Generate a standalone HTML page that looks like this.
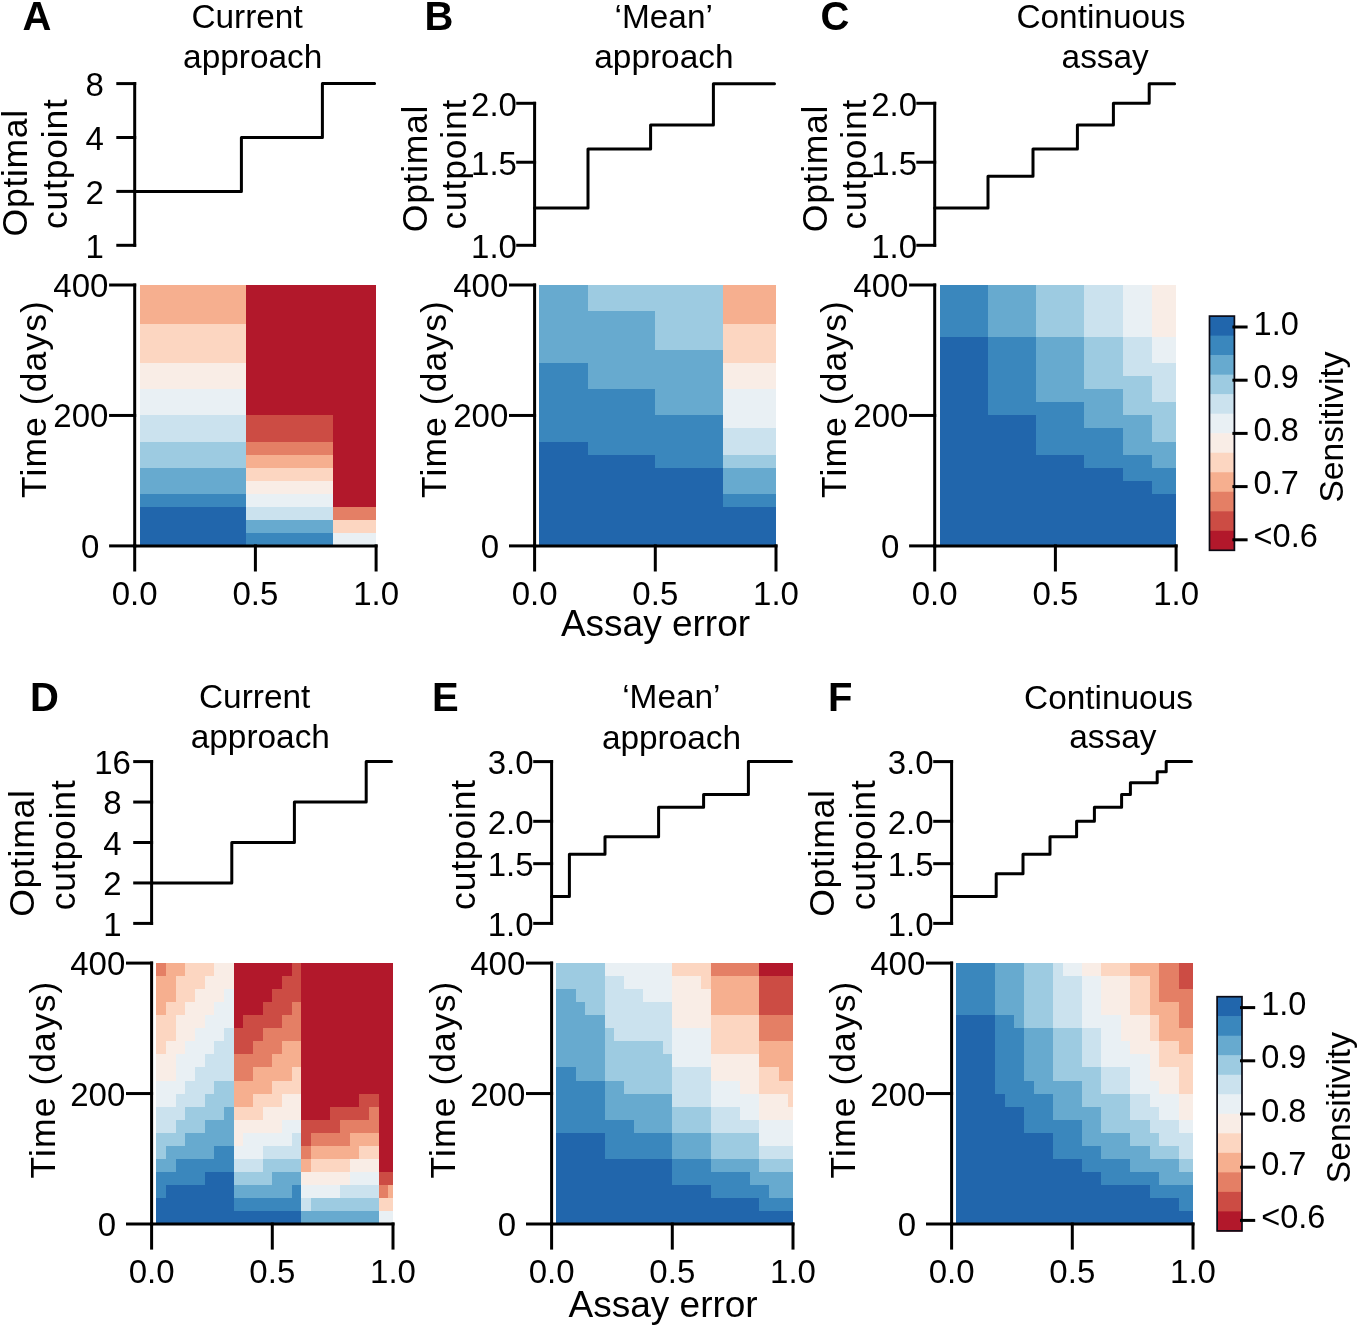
<!DOCTYPE html>
<html><head><meta charset="utf-8"><style>
html,body{margin:0;padding:0;background:#fff;}
svg{display:block;will-change:transform;}
text{font-family:"Liberation Sans", sans-serif;fill:#000;}
</style></head><body>
<svg width="1358" height="1326" viewBox="0 0 1358 1326">
<rect width="1358" height="1326" fill="#fff"/>
<g shape-rendering="crispEdges"><rect x="140" y="285" width="106" height="39" fill="#F6AF8F"/>
<rect x="246" y="285" width="130" height="130" fill="#B2182B"/>
<rect x="140" y="324" width="106" height="39" fill="#FCD6C1"/>
<rect x="140" y="363" width="106" height="26" fill="#F9EDE6"/>
<rect x="140" y="389" width="106" height="26" fill="#E9F0F4"/>
<rect x="140" y="415" width="106" height="27" fill="#CBE2EE"/>
<rect x="246" y="415" width="87" height="27" fill="#CC4C44"/>
<rect x="333" y="415" width="43" height="92" fill="#B2182B"/>
<rect x="140" y="442" width="106" height="26" fill="#9DCBE1"/>
<rect x="246" y="442" width="87" height="13" fill="#E47F65"/>
<rect x="246" y="455" width="87" height="13" fill="#F6AF8F"/>
<rect x="140" y="468" width="106" height="26" fill="#67AACF"/>
<rect x="246" y="468" width="87" height="13" fill="#FCD6C1"/>
<rect x="246" y="481" width="87" height="13" fill="#F9EDE6"/>
<rect x="140" y="494" width="106" height="13" fill="#3A87BD"/>
<rect x="246" y="494" width="87" height="13" fill="#E9F0F4"/>
<rect x="140" y="507" width="106" height="39" fill="#2166AC"/>
<rect x="246" y="507" width="87" height="13" fill="#CBE2EE"/>
<rect x="333" y="507" width="43" height="13" fill="#E47F65"/>
<rect x="246" y="520" width="87" height="13" fill="#67AACF"/>
<rect x="333" y="520" width="43" height="13" fill="#FCD6C1"/>
<rect x="246" y="533" width="87" height="13" fill="#3A87BD"/>
<rect x="333" y="533" width="43" height="13" fill="#E9F0F4"/></g>
<g shape-rendering="crispEdges"><rect x="539" y="285" width="49" height="26" fill="#67AACF"/>
<rect x="588" y="285" width="135" height="26" fill="#9DCBE1"/>
<rect x="723" y="285" width="53" height="39" fill="#F6AF8F"/>
<rect x="539" y="311" width="116" height="39" fill="#67AACF"/>
<rect x="655" y="311" width="68" height="39" fill="#9DCBE1"/>
<rect x="723" y="324" width="53" height="39" fill="#FCD6C1"/>
<rect x="539" y="350" width="184" height="13" fill="#67AACF"/>
<rect x="539" y="363" width="49" height="26" fill="#3A87BD"/>
<rect x="588" y="363" width="135" height="26" fill="#67AACF"/>
<rect x="723" y="363" width="53" height="26" fill="#F9EDE6"/>
<rect x="539" y="389" width="116" height="26" fill="#3A87BD"/>
<rect x="655" y="389" width="68" height="26" fill="#67AACF"/>
<rect x="723" y="389" width="53" height="39" fill="#E9F0F4"/>
<rect x="539" y="415" width="184" height="27" fill="#3A87BD"/>
<rect x="723" y="428" width="53" height="27" fill="#CBE2EE"/>
<rect x="539" y="442" width="49" height="13" fill="#2166AC"/>
<rect x="588" y="442" width="135" height="13" fill="#3A87BD"/>
<rect x="539" y="455" width="116" height="13" fill="#2166AC"/>
<rect x="655" y="455" width="68" height="13" fill="#3A87BD"/>
<rect x="723" y="455" width="53" height="13" fill="#9DCBE1"/>
<rect x="539" y="468" width="184" height="39" fill="#2166AC"/>
<rect x="723" y="468" width="53" height="26" fill="#67AACF"/>
<rect x="723" y="494" width="53" height="13" fill="#3A87BD"/>
<rect x="539" y="507" width="237" height="39" fill="#2166AC"/></g>
<g shape-rendering="crispEdges"><rect x="940" y="285" width="48" height="52" fill="#3A87BD"/>
<rect x="988" y="285" width="48" height="52" fill="#67AACF"/>
<rect x="1036" y="285" width="48" height="52" fill="#9DCBE1"/>
<rect x="1084" y="285" width="39" height="52" fill="#CBE2EE"/>
<rect x="1123" y="285" width="29" height="52" fill="#E9F0F4"/>
<rect x="1152" y="285" width="24" height="52" fill="#F9EDE6"/>
<rect x="940" y="337" width="48" height="78" fill="#2166AC"/>
<rect x="988" y="337" width="48" height="65" fill="#3A87BD"/>
<rect x="1036" y="337" width="48" height="52" fill="#67AACF"/>
<rect x="1084" y="337" width="39" height="39" fill="#9DCBE1"/>
<rect x="1123" y="337" width="29" height="26" fill="#CBE2EE"/>
<rect x="1152" y="337" width="24" height="26" fill="#E9F0F4"/>
<rect x="1123" y="363" width="53" height="13" fill="#CBE2EE"/>
<rect x="1084" y="376" width="68" height="13" fill="#9DCBE1"/>
<rect x="1152" y="376" width="24" height="26" fill="#CBE2EE"/>
<rect x="1036" y="389" width="87" height="13" fill="#67AACF"/>
<rect x="1123" y="389" width="29" height="13" fill="#9DCBE1"/>
<rect x="988" y="402" width="96" height="13" fill="#3A87BD"/>
<rect x="1084" y="402" width="39" height="13" fill="#67AACF"/>
<rect x="1123" y="402" width="53" height="13" fill="#9DCBE1"/>
<rect x="940" y="415" width="96" height="40" fill="#2166AC"/>
<rect x="1036" y="415" width="48" height="13" fill="#3A87BD"/>
<rect x="1084" y="415" width="68" height="13" fill="#67AACF"/>
<rect x="1152" y="415" width="24" height="27" fill="#9DCBE1"/>
<rect x="1036" y="428" width="87" height="27" fill="#3A87BD"/>
<rect x="1123" y="428" width="29" height="14" fill="#67AACF"/>
<rect x="1123" y="442" width="53" height="13" fill="#67AACF"/>
<rect x="940" y="455" width="144" height="13" fill="#2166AC"/>
<rect x="1084" y="455" width="68" height="13" fill="#3A87BD"/>
<rect x="1152" y="455" width="24" height="13" fill="#67AACF"/>
<rect x="940" y="468" width="183" height="13" fill="#2166AC"/>
<rect x="1123" y="468" width="53" height="13" fill="#3A87BD"/>
<rect x="940" y="481" width="212" height="13" fill="#2166AC"/>
<rect x="1152" y="481" width="24" height="13" fill="#3A87BD"/>
<rect x="940" y="494" width="236" height="52" fill="#2166AC"/></g>
<g shape-rendering="crispEdges"><rect x="156" y="963" width="10" height="13" fill="#E47F65"/>
<rect x="166" y="963" width="19" height="13" fill="#F6AF8F"/>
<rect x="185" y="963" width="29" height="13" fill="#FCD6C1"/>
<rect x="214" y="963" width="20" height="13" fill="#F9EDE6"/>
<rect x="234" y="963" width="58" height="13" fill="#B2182B"/>
<rect x="292" y="963" width="9" height="13" fill="#CC4C44"/>
<rect x="301" y="963" width="92" height="131" fill="#B2182B"/>
<rect x="156" y="976" width="20" height="26" fill="#F6AF8F"/>
<rect x="176" y="976" width="29" height="13" fill="#FCD6C1"/>
<rect x="205" y="976" width="29" height="13" fill="#F9EDE6"/>
<rect x="234" y="976" width="48" height="13" fill="#B2182B"/>
<rect x="282" y="976" width="19" height="13" fill="#CC4C44"/>
<rect x="176" y="989" width="19" height="13" fill="#FCD6C1"/>
<rect x="195" y="989" width="29" height="13" fill="#F9EDE6"/>
<rect x="224" y="989" width="10" height="13" fill="#E9F0F4"/>
<rect x="234" y="989" width="38" height="13" fill="#B2182B"/>
<rect x="272" y="989" width="29" height="13" fill="#CC4C44"/>
<rect x="156" y="1002" width="10" height="13" fill="#F6AF8F"/>
<rect x="166" y="1002" width="19" height="13" fill="#FCD6C1"/>
<rect x="185" y="1002" width="29" height="13" fill="#F9EDE6"/>
<rect x="214" y="1002" width="20" height="13" fill="#E9F0F4"/>
<rect x="234" y="1002" width="29" height="13" fill="#B2182B"/>
<rect x="263" y="1002" width="29" height="13" fill="#CC4C44"/>
<rect x="292" y="1002" width="9" height="13" fill="#E47F65"/>
<rect x="156" y="1015" width="20" height="26" fill="#FCD6C1"/>
<rect x="176" y="1015" width="29" height="13" fill="#F9EDE6"/>
<rect x="205" y="1015" width="29" height="13" fill="#E9F0F4"/>
<rect x="234" y="1015" width="9" height="13" fill="#B2182B"/>
<rect x="243" y="1015" width="39" height="13" fill="#CC4C44"/>
<rect x="282" y="1015" width="19" height="13" fill="#E47F65"/>
<rect x="176" y="1028" width="19" height="13" fill="#F9EDE6"/>
<rect x="195" y="1028" width="29" height="13" fill="#E9F0F4"/>
<rect x="224" y="1028" width="10" height="13" fill="#CBE2EE"/>
<rect x="234" y="1028" width="29" height="13" fill="#CC4C44"/>
<rect x="263" y="1028" width="38" height="13" fill="#E47F65"/>
<rect x="156" y="1041" width="10" height="13" fill="#FCD6C1"/>
<rect x="166" y="1041" width="19" height="13" fill="#F9EDE6"/>
<rect x="185" y="1041" width="29" height="13" fill="#E9F0F4"/>
<rect x="214" y="1041" width="20" height="13" fill="#CBE2EE"/>
<rect x="234" y="1041" width="19" height="13" fill="#CC4C44"/>
<rect x="253" y="1041" width="29" height="13" fill="#E47F65"/>
<rect x="282" y="1041" width="19" height="13" fill="#F6AF8F"/>
<rect x="156" y="1054" width="20" height="27" fill="#F9EDE6"/>
<rect x="176" y="1054" width="29" height="13" fill="#E9F0F4"/>
<rect x="205" y="1054" width="29" height="13" fill="#CBE2EE"/>
<rect x="234" y="1054" width="38" height="13" fill="#E47F65"/>
<rect x="272" y="1054" width="29" height="13" fill="#F6AF8F"/>
<rect x="176" y="1067" width="19" height="14" fill="#E9F0F4"/>
<rect x="195" y="1067" width="39" height="14" fill="#CBE2EE"/>
<rect x="234" y="1067" width="19" height="14" fill="#E47F65"/>
<rect x="253" y="1067" width="39" height="14" fill="#F6AF8F"/>
<rect x="292" y="1067" width="9" height="14" fill="#FCD6C1"/>
<rect x="156" y="1081" width="29" height="13" fill="#E9F0F4"/>
<rect x="185" y="1081" width="29" height="13" fill="#CBE2EE"/>
<rect x="214" y="1081" width="20" height="13" fill="#9DCBE1"/>
<rect x="234" y="1081" width="38" height="13" fill="#F6AF8F"/>
<rect x="272" y="1081" width="29" height="13" fill="#FCD6C1"/>
<rect x="156" y="1094" width="20" height="13" fill="#E9F0F4"/>
<rect x="176" y="1094" width="29" height="13" fill="#CBE2EE"/>
<rect x="205" y="1094" width="29" height="13" fill="#9DCBE1"/>
<rect x="234" y="1094" width="19" height="13" fill="#F6AF8F"/>
<rect x="253" y="1094" width="29" height="13" fill="#FCD6C1"/>
<rect x="282" y="1094" width="19" height="13" fill="#F9EDE6"/>
<rect x="301" y="1094" width="58" height="13" fill="#B2182B"/>
<rect x="359" y="1094" width="20" height="13" fill="#CC4C44"/>
<rect x="379" y="1094" width="14" height="78" fill="#B2182B"/>
<rect x="156" y="1107" width="29" height="13" fill="#CBE2EE"/>
<rect x="185" y="1107" width="39" height="13" fill="#9DCBE1"/>
<rect x="224" y="1107" width="10" height="13" fill="#67AACF"/>
<rect x="234" y="1107" width="29" height="13" fill="#FCD6C1"/>
<rect x="263" y="1107" width="38" height="13" fill="#F9EDE6"/>
<rect x="301" y="1107" width="29" height="13" fill="#B2182B"/>
<rect x="330" y="1107" width="39" height="13" fill="#CC4C44"/>
<rect x="369" y="1107" width="10" height="13" fill="#E47F65"/>
<rect x="156" y="1120" width="20" height="13" fill="#CBE2EE"/>
<rect x="176" y="1120" width="29" height="13" fill="#9DCBE1"/>
<rect x="205" y="1120" width="29" height="13" fill="#67AACF"/>
<rect x="234" y="1120" width="48" height="13" fill="#F9EDE6"/>
<rect x="282" y="1120" width="19" height="13" fill="#E9F0F4"/>
<rect x="301" y="1120" width="39" height="13" fill="#CC4C44"/>
<rect x="340" y="1120" width="39" height="13" fill="#E47F65"/>
<rect x="156" y="1133" width="29" height="13" fill="#9DCBE1"/>
<rect x="185" y="1133" width="49" height="13" fill="#67AACF"/>
<rect x="234" y="1133" width="9" height="13" fill="#F9EDE6"/>
<rect x="243" y="1133" width="49" height="13" fill="#E9F0F4"/>
<rect x="292" y="1133" width="9" height="13" fill="#CBE2EE"/>
<rect x="301" y="1133" width="10" height="13" fill="#CC4C44"/>
<rect x="311" y="1133" width="39" height="13" fill="#E47F65"/>
<rect x="350" y="1133" width="29" height="13" fill="#F6AF8F"/>
<rect x="156" y="1146" width="10" height="13" fill="#9DCBE1"/>
<rect x="166" y="1146" width="48" height="13" fill="#67AACF"/>
<rect x="214" y="1146" width="20" height="13" fill="#3A87BD"/>
<rect x="234" y="1146" width="29" height="13" fill="#E9F0F4"/>
<rect x="263" y="1146" width="38" height="13" fill="#CBE2EE"/>
<rect x="301" y="1146" width="10" height="13" fill="#E47F65"/>
<rect x="311" y="1146" width="48" height="13" fill="#F6AF8F"/>
<rect x="359" y="1146" width="20" height="13" fill="#FCD6C1"/>
<rect x="156" y="1159" width="20" height="13" fill="#67AACF"/>
<rect x="176" y="1159" width="58" height="13" fill="#3A87BD"/>
<rect x="234" y="1159" width="29" height="13" fill="#CBE2EE"/>
<rect x="263" y="1159" width="38" height="13" fill="#9DCBE1"/>
<rect x="301" y="1159" width="10" height="13" fill="#F6AF8F"/>
<rect x="311" y="1159" width="39" height="13" fill="#FCD6C1"/>
<rect x="350" y="1159" width="29" height="13" fill="#F9EDE6"/>
<rect x="156" y="1172" width="49" height="13" fill="#3A87BD"/>
<rect x="205" y="1172" width="29" height="13" fill="#2166AC"/>
<rect x="234" y="1172" width="38" height="13" fill="#9DCBE1"/>
<rect x="272" y="1172" width="29" height="13" fill="#67AACF"/>
<rect x="301" y="1172" width="49" height="13" fill="#F9EDE6"/>
<rect x="350" y="1172" width="29" height="13" fill="#E9F0F4"/>
<rect x="379" y="1172" width="14" height="13" fill="#CC4C44"/>
<rect x="156" y="1185" width="10" height="13" fill="#3A87BD"/>
<rect x="166" y="1185" width="68" height="13" fill="#2166AC"/>
<rect x="234" y="1185" width="58" height="13" fill="#67AACF"/>
<rect x="292" y="1185" width="9" height="13" fill="#3A87BD"/>
<rect x="301" y="1185" width="39" height="13" fill="#E9F0F4"/>
<rect x="340" y="1185" width="39" height="13" fill="#CBE2EE"/>
<rect x="379" y="1185" width="9" height="13" fill="#E47F65"/>
<rect x="388" y="1185" width="5" height="13" fill="#F6AF8F"/>
<rect x="156" y="1198" width="78" height="13" fill="#2166AC"/>
<rect x="234" y="1198" width="67" height="13" fill="#3A87BD"/>
<rect x="301" y="1198" width="10" height="13" fill="#CBE2EE"/>
<rect x="311" y="1198" width="68" height="13" fill="#9DCBE1"/>
<rect x="379" y="1198" width="14" height="13" fill="#FCD6C1"/>
<rect x="156" y="1211" width="145" height="13" fill="#2166AC"/>
<rect x="301" y="1211" width="78" height="13" fill="#67AACF"/>
<rect x="379" y="1211" width="14" height="13" fill="#E9F0F4"/></g>
<g shape-rendering="crispEdges"><rect x="556" y="963" width="49" height="26" fill="#9DCBE1"/>
<rect x="605" y="963" width="67" height="13" fill="#E9F0F4"/>
<rect x="672" y="963" width="39" height="13" fill="#FCD6C1"/>
<rect x="711" y="963" width="48" height="13" fill="#E47F65"/>
<rect x="759" y="963" width="34" height="13" fill="#B2182B"/>
<rect x="605" y="976" width="19" height="13" fill="#CBE2EE"/>
<rect x="624" y="976" width="48" height="13" fill="#E9F0F4"/>
<rect x="672" y="976" width="29" height="13" fill="#F9EDE6"/>
<rect x="701" y="976" width="10" height="13" fill="#FCD6C1"/>
<rect x="711" y="976" width="48" height="39" fill="#F6AF8F"/>
<rect x="759" y="976" width="34" height="39" fill="#CC4C44"/>
<rect x="556" y="989" width="20" height="13" fill="#67AACF"/>
<rect x="576" y="989" width="29" height="13" fill="#9DCBE1"/>
<rect x="605" y="989" width="38" height="13" fill="#CBE2EE"/>
<rect x="643" y="989" width="29" height="13" fill="#E9F0F4"/>
<rect x="672" y="989" width="39" height="39" fill="#F9EDE6"/>
<rect x="556" y="1002" width="29" height="13" fill="#67AACF"/>
<rect x="585" y="1002" width="20" height="13" fill="#9DCBE1"/>
<rect x="605" y="1002" width="67" height="26" fill="#CBE2EE"/>
<rect x="556" y="1015" width="49" height="52" fill="#67AACF"/>
<rect x="711" y="1015" width="48" height="39" fill="#FCD6C1"/>
<rect x="759" y="1015" width="34" height="26" fill="#E47F65"/>
<rect x="605" y="1028" width="9" height="13" fill="#9DCBE1"/>
<rect x="614" y="1028" width="58" height="13" fill="#CBE2EE"/>
<rect x="672" y="1028" width="39" height="39" fill="#E9F0F4"/>
<rect x="605" y="1041" width="58" height="13" fill="#9DCBE1"/>
<rect x="663" y="1041" width="9" height="13" fill="#CBE2EE"/>
<rect x="759" y="1041" width="34" height="26" fill="#F6AF8F"/>
<rect x="605" y="1054" width="67" height="27" fill="#9DCBE1"/>
<rect x="711" y="1054" width="48" height="27" fill="#F9EDE6"/>
<rect x="556" y="1067" width="20" height="14" fill="#3A87BD"/>
<rect x="576" y="1067" width="29" height="14" fill="#67AACF"/>
<rect x="672" y="1067" width="39" height="40" fill="#CBE2EE"/>
<rect x="759" y="1067" width="20" height="14" fill="#FCD6C1"/>
<rect x="779" y="1067" width="14" height="14" fill="#F6AF8F"/>
<rect x="556" y="1081" width="49" height="39" fill="#3A87BD"/>
<rect x="605" y="1081" width="19" height="13" fill="#67AACF"/>
<rect x="624" y="1081" width="48" height="13" fill="#9DCBE1"/>
<rect x="711" y="1081" width="29" height="13" fill="#E9F0F4"/>
<rect x="740" y="1081" width="19" height="13" fill="#F9EDE6"/>
<rect x="759" y="1081" width="34" height="13" fill="#FCD6C1"/>
<rect x="605" y="1094" width="67" height="26" fill="#67AACF"/>
<rect x="711" y="1094" width="48" height="13" fill="#E9F0F4"/>
<rect x="759" y="1094" width="29" height="13" fill="#F9EDE6"/>
<rect x="788" y="1094" width="5" height="13" fill="#FCD6C1"/>
<rect x="672" y="1107" width="39" height="26" fill="#9DCBE1"/>
<rect x="711" y="1107" width="29" height="13" fill="#CBE2EE"/>
<rect x="740" y="1107" width="19" height="13" fill="#E9F0F4"/>
<rect x="759" y="1107" width="34" height="13" fill="#F9EDE6"/>
<rect x="556" y="1120" width="78" height="13" fill="#3A87BD"/>
<rect x="634" y="1120" width="38" height="13" fill="#67AACF"/>
<rect x="711" y="1120" width="48" height="13" fill="#CBE2EE"/>
<rect x="759" y="1120" width="34" height="26" fill="#E9F0F4"/>
<rect x="556" y="1133" width="49" height="26" fill="#2166AC"/>
<rect x="605" y="1133" width="67" height="26" fill="#3A87BD"/>
<rect x="672" y="1133" width="39" height="26" fill="#67AACF"/>
<rect x="711" y="1133" width="48" height="26" fill="#9DCBE1"/>
<rect x="759" y="1146" width="34" height="13" fill="#CBE2EE"/>
<rect x="556" y="1159" width="116" height="26" fill="#2166AC"/>
<rect x="672" y="1159" width="39" height="13" fill="#3A87BD"/>
<rect x="711" y="1159" width="48" height="13" fill="#67AACF"/>
<rect x="759" y="1159" width="34" height="13" fill="#9DCBE1"/>
<rect x="672" y="1172" width="78" height="13" fill="#3A87BD"/>
<rect x="750" y="1172" width="43" height="13" fill="#67AACF"/>
<rect x="556" y="1185" width="155" height="13" fill="#2166AC"/>
<rect x="711" y="1185" width="58" height="13" fill="#3A87BD"/>
<rect x="769" y="1185" width="24" height="13" fill="#67AACF"/>
<rect x="556" y="1198" width="203" height="13" fill="#2166AC"/>
<rect x="759" y="1198" width="34" height="13" fill="#3A87BD"/>
<rect x="556" y="1211" width="237" height="13" fill="#2166AC"/></g>
<g shape-rendering="crispEdges"><rect x="956" y="963" width="39" height="52" fill="#3A87BD"/>
<rect x="995" y="963" width="29" height="52" fill="#67AACF"/>
<rect x="1024" y="963" width="29" height="65" fill="#9DCBE1"/>
<rect x="1053" y="963" width="10" height="13" fill="#CBE2EE"/>
<rect x="1063" y="963" width="19" height="13" fill="#E9F0F4"/>
<rect x="1082" y="963" width="19" height="13" fill="#F9EDE6"/>
<rect x="1101" y="963" width="29" height="13" fill="#FCD6C1"/>
<rect x="1130" y="963" width="29" height="13" fill="#F6AF8F"/>
<rect x="1159" y="963" width="20" height="26" fill="#E47F65"/>
<rect x="1179" y="963" width="14" height="26" fill="#CC4C44"/>
<rect x="1053" y="976" width="29" height="52" fill="#CBE2EE"/>
<rect x="1082" y="976" width="19" height="39" fill="#E9F0F4"/>
<rect x="1101" y="976" width="29" height="39" fill="#F9EDE6"/>
<rect x="1130" y="976" width="20" height="39" fill="#FCD6C1"/>
<rect x="1150" y="976" width="9" height="26" fill="#F6AF8F"/>
<rect x="1159" y="989" width="34" height="13" fill="#E47F65"/>
<rect x="1150" y="1002" width="29" height="13" fill="#F6AF8F"/>
<rect x="1179" y="1002" width="14" height="26" fill="#E47F65"/>
<rect x="956" y="1015" width="39" height="79" fill="#2166AC"/>
<rect x="995" y="1015" width="19" height="13" fill="#3A87BD"/>
<rect x="1014" y="1015" width="10" height="13" fill="#67AACF"/>
<rect x="1082" y="1015" width="39" height="13" fill="#E9F0F4"/>
<rect x="1121" y="1015" width="29" height="26" fill="#F9EDE6"/>
<rect x="1150" y="1015" width="9" height="26" fill="#FCD6C1"/>
<rect x="1159" y="1015" width="20" height="13" fill="#F6AF8F"/>
<rect x="995" y="1028" width="29" height="53" fill="#3A87BD"/>
<rect x="1024" y="1028" width="29" height="53" fill="#67AACF"/>
<rect x="1053" y="1028" width="29" height="39" fill="#9DCBE1"/>
<rect x="1082" y="1028" width="19" height="39" fill="#CBE2EE"/>
<rect x="1101" y="1028" width="20" height="13" fill="#E9F0F4"/>
<rect x="1159" y="1028" width="34" height="13" fill="#F6AF8F"/>
<rect x="1101" y="1041" width="29" height="13" fill="#E9F0F4"/>
<rect x="1130" y="1041" width="29" height="13" fill="#F9EDE6"/>
<rect x="1159" y="1041" width="20" height="13" fill="#FCD6C1"/>
<rect x="1179" y="1041" width="14" height="13" fill="#F6AF8F"/>
<rect x="1101" y="1054" width="49" height="13" fill="#E9F0F4"/>
<rect x="1150" y="1054" width="9" height="13" fill="#F9EDE6"/>
<rect x="1159" y="1054" width="34" height="13" fill="#FCD6C1"/>
<rect x="1053" y="1067" width="48" height="14" fill="#9DCBE1"/>
<rect x="1101" y="1067" width="29" height="27" fill="#CBE2EE"/>
<rect x="1130" y="1067" width="20" height="14" fill="#E9F0F4"/>
<rect x="1150" y="1067" width="29" height="14" fill="#F9EDE6"/>
<rect x="1179" y="1067" width="14" height="27" fill="#FCD6C1"/>
<rect x="995" y="1081" width="39" height="13" fill="#3A87BD"/>
<rect x="1034" y="1081" width="48" height="13" fill="#67AACF"/>
<rect x="1082" y="1081" width="19" height="13" fill="#9DCBE1"/>
<rect x="1130" y="1081" width="29" height="13" fill="#E9F0F4"/>
<rect x="1159" y="1081" width="20" height="13" fill="#F9EDE6"/>
<rect x="956" y="1094" width="49" height="13" fill="#2166AC"/>
<rect x="1005" y="1094" width="48" height="13" fill="#3A87BD"/>
<rect x="1053" y="1094" width="29" height="13" fill="#67AACF"/>
<rect x="1082" y="1094" width="48" height="13" fill="#9DCBE1"/>
<rect x="1130" y="1094" width="20" height="13" fill="#CBE2EE"/>
<rect x="1150" y="1094" width="29" height="13" fill="#E9F0F4"/>
<rect x="1179" y="1094" width="14" height="26" fill="#F9EDE6"/>
<rect x="956" y="1107" width="68" height="26" fill="#2166AC"/>
<rect x="1024" y="1107" width="29" height="13" fill="#3A87BD"/>
<rect x="1053" y="1107" width="48" height="13" fill="#67AACF"/>
<rect x="1101" y="1107" width="29" height="13" fill="#9DCBE1"/>
<rect x="1130" y="1107" width="29" height="13" fill="#CBE2EE"/>
<rect x="1159" y="1107" width="20" height="13" fill="#E9F0F4"/>
<rect x="1024" y="1120" width="58" height="13" fill="#3A87BD"/>
<rect x="1082" y="1120" width="19" height="13" fill="#67AACF"/>
<rect x="1101" y="1120" width="49" height="13" fill="#9DCBE1"/>
<rect x="1150" y="1120" width="29" height="13" fill="#CBE2EE"/>
<rect x="1179" y="1120" width="14" height="13" fill="#E9F0F4"/>
<rect x="956" y="1133" width="97" height="26" fill="#2166AC"/>
<rect x="1053" y="1133" width="29" height="13" fill="#3A87BD"/>
<rect x="1082" y="1133" width="48" height="13" fill="#67AACF"/>
<rect x="1130" y="1133" width="29" height="13" fill="#9DCBE1"/>
<rect x="1159" y="1133" width="34" height="13" fill="#CBE2EE"/>
<rect x="1053" y="1146" width="48" height="13" fill="#3A87BD"/>
<rect x="1101" y="1146" width="49" height="13" fill="#67AACF"/>
<rect x="1150" y="1146" width="29" height="13" fill="#9DCBE1"/>
<rect x="1179" y="1146" width="14" height="13" fill="#CBE2EE"/>
<rect x="956" y="1159" width="126" height="13" fill="#2166AC"/>
<rect x="1082" y="1159" width="48" height="13" fill="#3A87BD"/>
<rect x="1130" y="1159" width="49" height="13" fill="#67AACF"/>
<rect x="1179" y="1159" width="14" height="13" fill="#9DCBE1"/>
<rect x="956" y="1172" width="145" height="13" fill="#2166AC"/>
<rect x="1101" y="1172" width="58" height="13" fill="#3A87BD"/>
<rect x="1159" y="1172" width="34" height="13" fill="#67AACF"/>
<rect x="956" y="1185" width="194" height="13" fill="#2166AC"/>
<rect x="1150" y="1185" width="43" height="13" fill="#3A87BD"/>
<rect x="956" y="1198" width="223" height="13" fill="#2166AC"/>
<rect x="1179" y="1198" width="14" height="13" fill="#3A87BD"/>
<rect x="956" y="1211" width="237" height="13" fill="#2166AC"/></g>
<g stroke="#000" stroke-width="3.00" stroke-linecap="square" stroke-linejoin="round" fill="none"><line x1="134.70" y1="245.30" x2="134.70" y2="83.60"/>
<line x1="117.80" y1="245.30" x2="134.70" y2="245.30"/>
<line x1="117.80" y1="191.40" x2="134.70" y2="191.40"/>
<line x1="117.80" y1="137.50" x2="134.70" y2="137.50"/>
<line x1="117.80" y1="83.60" x2="134.70" y2="83.60"/>
<path d="M134.70,191.40 H241.40 V137.50 H322.40 V83.60 H374.60" fill="none" stroke-linecap="round"/>
<line x1="134.70" y1="545.90" x2="134.70" y2="285.00"/>
<line x1="110.60" y1="545.90" x2="134.70" y2="545.90"/>
<line x1="110.60" y1="415.45" x2="134.70" y2="415.45"/>
<line x1="110.60" y1="285.00" x2="134.70" y2="285.00"/>
<line x1="134.70" y1="545.90" x2="376.10" y2="545.90"/>
<line x1="134.70" y1="545.90" x2="134.70" y2="570.00"/>
<line x1="255.40" y1="545.90" x2="255.40" y2="570.00"/>
<line x1="376.10" y1="545.90" x2="376.10" y2="570.00"/></g>
<g stroke="#000" stroke-width="3.00" stroke-linecap="square" stroke-linejoin="round" fill="none"><line x1="534.60" y1="245.30" x2="534.60" y2="103.30"/>
<line x1="517.70" y1="245.30" x2="534.60" y2="245.30"/>
<line x1="517.70" y1="162.24" x2="534.60" y2="162.24"/>
<line x1="517.70" y1="103.30" x2="534.60" y2="103.30"/>
<path d="M534.60,207.95 H588.00 V149.01 H650.60 V124.88 H713.40 V83.77 H774.50" fill="none" stroke-linecap="round"/>
<line x1="534.60" y1="545.90" x2="534.60" y2="285.00"/>
<line x1="510.50" y1="545.90" x2="534.60" y2="545.90"/>
<line x1="510.50" y1="415.45" x2="534.60" y2="415.45"/>
<line x1="510.50" y1="285.00" x2="534.60" y2="285.00"/>
<line x1="534.60" y1="545.90" x2="776.00" y2="545.90"/>
<line x1="534.60" y1="545.90" x2="534.60" y2="570.00"/>
<line x1="655.30" y1="545.90" x2="655.30" y2="570.00"/>
<line x1="776.00" y1="545.90" x2="776.00" y2="570.00"/></g>
<g stroke="#000" stroke-width="3.00" stroke-linecap="square" stroke-linejoin="round" fill="none"><line x1="934.70" y1="245.30" x2="934.70" y2="103.30"/>
<line x1="917.80" y1="245.30" x2="934.70" y2="245.30"/>
<line x1="917.80" y1="162.24" x2="934.70" y2="162.24"/>
<line x1="917.80" y1="103.30" x2="934.70" y2="103.30"/>
<path d="M934.70,207.95 H988.00 V176.37 H1033.00 V149.01 H1077.40 V124.88 H1113.40 V103.30 H1149.20 V83.77 H1174.60" fill="none" stroke-linecap="round"/>
<line x1="934.70" y1="545.90" x2="934.70" y2="285.00"/>
<line x1="910.60" y1="545.90" x2="934.70" y2="545.90"/>
<line x1="910.60" y1="415.45" x2="934.70" y2="415.45"/>
<line x1="910.60" y1="285.00" x2="934.70" y2="285.00"/>
<line x1="934.70" y1="545.90" x2="1176.10" y2="545.90"/>
<line x1="934.70" y1="545.90" x2="934.70" y2="570.00"/>
<line x1="1055.40" y1="545.90" x2="1055.40" y2="570.00"/>
<line x1="1176.10" y1="545.90" x2="1176.10" y2="570.00"/></g>
<g stroke="#000" stroke-width="3.00" stroke-linecap="square" stroke-linejoin="round" fill="none"><line x1="151.60" y1="923.40" x2="151.60" y2="761.60"/>
<line x1="134.70" y1="923.40" x2="151.60" y2="923.40"/>
<line x1="134.70" y1="882.95" x2="151.60" y2="882.95"/>
<line x1="134.70" y1="842.50" x2="151.60" y2="842.50"/>
<line x1="134.70" y1="802.05" x2="151.60" y2="802.05"/>
<line x1="134.70" y1="761.60" x2="151.60" y2="761.60"/>
<path d="M151.60,882.95 H231.80 V842.50 H294.40 V802.05 H366.20 V761.60 H391.50" fill="none" stroke-linecap="round"/>
<line x1="151.60" y1="1224.00" x2="151.60" y2="963.10"/>
<line x1="127.50" y1="1224.00" x2="151.60" y2="1224.00"/>
<line x1="127.50" y1="1093.55" x2="151.60" y2="1093.55"/>
<line x1="127.50" y1="963.10" x2="151.60" y2="963.10"/>
<line x1="151.60" y1="1224.00" x2="393.00" y2="1224.00"/>
<line x1="151.60" y1="1224.00" x2="151.60" y2="1248.10"/>
<line x1="272.30" y1="1224.00" x2="272.30" y2="1248.10"/>
<line x1="393.00" y1="1224.00" x2="393.00" y2="1248.10"/></g>
<g stroke="#000" stroke-width="3.00" stroke-linecap="square" stroke-linejoin="round" fill="none"><line x1="551.60" y1="923.40" x2="551.60" y2="761.60"/>
<line x1="534.70" y1="923.40" x2="551.60" y2="923.40"/>
<line x1="534.70" y1="863.68" x2="551.60" y2="863.68"/>
<line x1="534.70" y1="821.32" x2="551.60" y2="821.32"/>
<line x1="534.70" y1="761.60" x2="551.60" y2="761.60"/>
<path d="M551.60,896.55 H569.40 V854.18 H605.00 V836.83 H658.60 V807.28 H703.60 V794.46 H748.40 V761.60 H791.50" fill="none" stroke-linecap="round"/>
<line x1="551.60" y1="1224.00" x2="551.60" y2="963.10"/>
<line x1="527.50" y1="1224.00" x2="551.60" y2="1224.00"/>
<line x1="527.50" y1="1093.55" x2="551.60" y2="1093.55"/>
<line x1="527.50" y1="963.10" x2="551.60" y2="963.10"/>
<line x1="551.60" y1="1224.00" x2="793.00" y2="1224.00"/>
<line x1="551.60" y1="1224.00" x2="551.60" y2="1248.10"/>
<line x1="672.30" y1="1224.00" x2="672.30" y2="1248.10"/>
<line x1="793.00" y1="1224.00" x2="793.00" y2="1248.10"/></g>
<g stroke="#000" stroke-width="3.00" stroke-linecap="square" stroke-linejoin="round" fill="none"><line x1="951.60" y1="923.40" x2="951.60" y2="761.60"/>
<line x1="934.70" y1="923.40" x2="951.60" y2="923.40"/>
<line x1="934.70" y1="863.68" x2="951.60" y2="863.68"/>
<line x1="934.70" y1="821.32" x2="951.60" y2="821.32"/>
<line x1="934.70" y1="761.60" x2="951.60" y2="761.60"/>
<path d="M951.60,896.55 H996.20 V873.85 H1023.00 V854.18 H1050.00 V836.83 H1076.60 V821.32 H1094.40 V807.28 H1121.60 V794.46 H1130.40 V782.68 H1157.20 V771.76 H1166.20 V761.60 H1191.50" fill="none" stroke-linecap="round"/>
<line x1="951.60" y1="1224.00" x2="951.60" y2="963.10"/>
<line x1="927.50" y1="1224.00" x2="951.60" y2="1224.00"/>
<line x1="927.50" y1="1093.55" x2="951.60" y2="1093.55"/>
<line x1="927.50" y1="963.10" x2="951.60" y2="963.10"/>
<line x1="951.60" y1="1224.00" x2="1193.00" y2="1224.00"/>
<line x1="951.60" y1="1224.00" x2="951.60" y2="1248.10"/>
<line x1="1072.30" y1="1224.00" x2="1072.30" y2="1248.10"/>
<line x1="1193.00" y1="1224.00" x2="1193.00" y2="1248.10"/></g>
<rect x="1209.50" y="316.10" width="24.90" height="20.12" fill="#2166AC"/>
<rect x="1209.50" y="335.62" width="24.90" height="20.12" fill="#3A87BD"/>
<rect x="1209.50" y="355.13" width="24.90" height="20.12" fill="#67AACF"/>
<rect x="1209.50" y="374.65" width="24.90" height="20.12" fill="#9DCBE1"/>
<rect x="1209.50" y="394.17" width="24.90" height="20.12" fill="#CBE2EE"/>
<rect x="1209.50" y="413.68" width="24.90" height="20.12" fill="#E9F0F4"/>
<rect x="1209.50" y="433.20" width="24.90" height="20.12" fill="#F9EDE6"/>
<rect x="1209.50" y="452.72" width="24.90" height="20.12" fill="#FCD6C1"/>
<rect x="1209.50" y="472.23" width="24.90" height="20.12" fill="#F6AF8F"/>
<rect x="1209.50" y="491.75" width="24.90" height="20.12" fill="#E47F65"/>
<rect x="1209.50" y="511.27" width="24.90" height="20.12" fill="#CC4C44"/>
<rect x="1209.50" y="530.78" width="24.90" height="20.12" fill="#B2182B"/>
<rect x="1209.50" y="316.10" width="24.90" height="234.20" fill="none" stroke="#0a0a14" stroke-width="1.7"/>
<line x1="1232.40" y1="327.00" x2="1247.60" y2="327.00" stroke="#000" stroke-width="3.0"/>
<line x1="1232.40" y1="380.20" x2="1247.60" y2="380.20" stroke="#000" stroke-width="3.0"/>
<line x1="1232.40" y1="433.40" x2="1247.60" y2="433.40" stroke="#000" stroke-width="3.0"/>
<line x1="1232.40" y1="486.60" x2="1247.60" y2="486.60" stroke="#000" stroke-width="3.0"/>
<line x1="1232.40" y1="539.80" x2="1247.60" y2="539.80" stroke="#000" stroke-width="3.0"/>
<rect x="1217.10" y="996.70" width="24.90" height="20.12" fill="#2166AC"/>
<rect x="1217.10" y="1016.22" width="24.90" height="20.12" fill="#3A87BD"/>
<rect x="1217.10" y="1035.73" width="24.90" height="20.12" fill="#67AACF"/>
<rect x="1217.10" y="1055.25" width="24.90" height="20.12" fill="#9DCBE1"/>
<rect x="1217.10" y="1074.77" width="24.90" height="20.12" fill="#CBE2EE"/>
<rect x="1217.10" y="1094.28" width="24.90" height="20.12" fill="#E9F0F4"/>
<rect x="1217.10" y="1113.80" width="24.90" height="20.12" fill="#F9EDE6"/>
<rect x="1217.10" y="1133.32" width="24.90" height="20.12" fill="#FCD6C1"/>
<rect x="1217.10" y="1152.83" width="24.90" height="20.12" fill="#F6AF8F"/>
<rect x="1217.10" y="1172.35" width="24.90" height="20.12" fill="#E47F65"/>
<rect x="1217.10" y="1191.87" width="24.90" height="20.12" fill="#CC4C44"/>
<rect x="1217.10" y="1211.38" width="24.90" height="20.12" fill="#B2182B"/>
<rect x="1217.10" y="996.70" width="24.90" height="234.20" fill="none" stroke="#0a0a14" stroke-width="1.7"/>
<line x1="1240.00" y1="1007.60" x2="1255.20" y2="1007.60" stroke="#000" stroke-width="3.0"/>
<line x1="1240.00" y1="1060.80" x2="1255.20" y2="1060.80" stroke="#000" stroke-width="3.0"/>
<line x1="1240.00" y1="1114.00" x2="1255.20" y2="1114.00" stroke="#000" stroke-width="3.0"/>
<line x1="1240.00" y1="1167.20" x2="1255.20" y2="1167.20" stroke="#000" stroke-width="3.0"/>
<line x1="1240.00" y1="1220.40" x2="1255.20" y2="1220.40" stroke="#000" stroke-width="3.0"/>
<text x="22.50" y="30.40" font-size="40" text-anchor="start" font-weight="bold">A</text>
<text x="30.10" y="711.00" font-size="40" text-anchor="start" font-weight="bold">D</text>
<text x="424.40" y="30.40" font-size="40" text-anchor="start" font-weight="bold">B</text>
<text x="432.00" y="711.00" font-size="40" text-anchor="start" font-weight="bold">E</text>
<text x="820.50" y="30.00" font-size="40" text-anchor="start" font-weight="bold">C</text>
<text x="828.10" y="710.60" font-size="40" text-anchor="start" font-weight="bold">F</text>
<text x="247.05" y="27.80" font-size="33.4" text-anchor="middle">Current</text>
<text x="254.65" y="708.40" font-size="33.4" text-anchor="middle">Current</text>
<text x="252.70" y="67.60" font-size="33.4" text-anchor="middle">approach</text>
<text x="260.30" y="748.20" font-size="33.4" text-anchor="middle">approach</text>
<text x="663.75" y="27.60" font-size="33.4" text-anchor="middle">&#8216;Mean&#8217;</text>
<text x="671.35" y="708.20" font-size="33.4" text-anchor="middle">&#8216;Mean&#8217;</text>
<text x="663.90" y="67.90" font-size="33.4" text-anchor="middle">approach</text>
<text x="671.50" y="748.50" font-size="33.4" text-anchor="middle">approach</text>
<text x="1100.90" y="28.00" font-size="33.4" text-anchor="middle">Continuous</text>
<text x="1108.50" y="708.60" font-size="33.4" text-anchor="middle">Continuous</text>
<text x="1105.20" y="67.70" font-size="33.4" text-anchor="middle">assay</text>
<text x="1112.80" y="748.30" font-size="33.4" text-anchor="middle">assay</text>
<text x="94.70" y="257.60" font-size="33" text-anchor="middle">1</text>
<text x="94.70" y="203.70" font-size="33" text-anchor="middle">2</text>
<text x="94.70" y="149.80" font-size="33" text-anchor="middle">4</text>
<text x="94.70" y="95.90" font-size="33" text-anchor="middle">8</text>
<text x="90.10" y="557.90" font-size="33" text-anchor="middle">0</text>
<text x="80.85" y="427.45" font-size="33" text-anchor="middle">200</text>
<text x="80.85" y="297.00" font-size="33" text-anchor="middle">400</text>
<text x="134.70" y="604.80" font-size="33" text-anchor="middle">0.0</text>
<text x="255.40" y="604.80" font-size="33" text-anchor="middle">0.5</text>
<text x="376.10" y="604.80" font-size="33" text-anchor="middle">1.0</text>
<text x="494.00" y="257.60" font-size="33" text-anchor="middle">1.0</text>
<text x="494.00" y="174.54" font-size="33" text-anchor="middle">1.5</text>
<text x="494.00" y="115.60" font-size="33" text-anchor="middle">2.0</text>
<text x="490.00" y="557.90" font-size="33" text-anchor="middle">0</text>
<text x="480.75" y="427.45" font-size="33" text-anchor="middle">200</text>
<text x="480.75" y="297.00" font-size="33" text-anchor="middle">400</text>
<text x="534.60" y="604.80" font-size="33" text-anchor="middle">0.0</text>
<text x="655.30" y="604.80" font-size="33" text-anchor="middle">0.5</text>
<text x="776.00" y="604.80" font-size="33" text-anchor="middle">1.0</text>
<text x="894.10" y="257.60" font-size="33" text-anchor="middle">1.0</text>
<text x="894.10" y="174.54" font-size="33" text-anchor="middle">1.5</text>
<text x="894.10" y="115.60" font-size="33" text-anchor="middle">2.0</text>
<text x="890.10" y="557.90" font-size="33" text-anchor="middle">0</text>
<text x="880.85" y="427.45" font-size="33" text-anchor="middle">200</text>
<text x="880.85" y="297.00" font-size="33" text-anchor="middle">400</text>
<text x="934.70" y="604.80" font-size="33" text-anchor="middle">0.0</text>
<text x="1055.40" y="604.80" font-size="33" text-anchor="middle">0.5</text>
<text x="1176.10" y="604.80" font-size="33" text-anchor="middle">1.0</text>
<text x="112.50" y="935.70" font-size="33" text-anchor="middle">1</text>
<text x="112.50" y="895.25" font-size="33" text-anchor="middle">2</text>
<text x="112.50" y="854.80" font-size="33" text-anchor="middle">4</text>
<text x="112.50" y="814.35" font-size="33" text-anchor="middle">8</text>
<text x="112.50" y="773.90" font-size="33" text-anchor="middle">16</text>
<text x="107.00" y="1236.00" font-size="33" text-anchor="middle">0</text>
<text x="97.75" y="1105.55" font-size="33" text-anchor="middle">200</text>
<text x="97.75" y="975.10" font-size="33" text-anchor="middle">400</text>
<text x="151.60" y="1282.90" font-size="33" text-anchor="middle">0.0</text>
<text x="272.30" y="1282.90" font-size="33" text-anchor="middle">0.5</text>
<text x="393.00" y="1282.90" font-size="33" text-anchor="middle">1.0</text>
<text x="510.60" y="935.70" font-size="33" text-anchor="middle">1.0</text>
<text x="510.60" y="875.98" font-size="33" text-anchor="middle">1.5</text>
<text x="510.60" y="833.62" font-size="33" text-anchor="middle">2.0</text>
<text x="510.60" y="773.90" font-size="33" text-anchor="middle">3.0</text>
<text x="507.00" y="1236.00" font-size="33" text-anchor="middle">0</text>
<text x="497.75" y="1105.55" font-size="33" text-anchor="middle">200</text>
<text x="497.75" y="975.10" font-size="33" text-anchor="middle">400</text>
<text x="551.60" y="1282.90" font-size="33" text-anchor="middle">0.0</text>
<text x="672.30" y="1282.90" font-size="33" text-anchor="middle">0.5</text>
<text x="793.00" y="1282.90" font-size="33" text-anchor="middle">1.0</text>
<text x="910.60" y="935.70" font-size="33" text-anchor="middle">1.0</text>
<text x="910.60" y="875.98" font-size="33" text-anchor="middle">1.5</text>
<text x="910.60" y="833.62" font-size="33" text-anchor="middle">2.0</text>
<text x="910.60" y="773.90" font-size="33" text-anchor="middle">3.0</text>
<text x="907.00" y="1236.00" font-size="33" text-anchor="middle">0</text>
<text x="897.75" y="1105.55" font-size="33" text-anchor="middle">200</text>
<text x="897.75" y="975.10" font-size="33" text-anchor="middle">400</text>
<text x="951.60" y="1282.90" font-size="33" text-anchor="middle">0.0</text>
<text x="1072.30" y="1282.90" font-size="33" text-anchor="middle">0.5</text>
<text x="1193.00" y="1282.90" font-size="33" text-anchor="middle">1.0</text>
<text x="27.10" y="173.10" font-size="35.5" text-anchor="middle" transform="rotate(-90 27.10 173.10)" textLength="126.60" lengthAdjust="spacing">Optimal</text>
<text x="67.30" y="164.10" font-size="35.5" text-anchor="middle" transform="rotate(-90 67.30 164.10)" textLength="130.00" lengthAdjust="spacing">cutpoint</text>
<text x="46.20" y="399.60" font-size="35.5" text-anchor="middle" transform="rotate(-90 46.20 399.60)" textLength="196.80" lengthAdjust="spacing">Time (days)</text>
<text x="427.00" y="168.90" font-size="35.5" text-anchor="middle" transform="rotate(-90 427.00 168.90)" textLength="126.60" lengthAdjust="spacing">Optimal</text>
<text x="466.30" y="164.50" font-size="35.5" text-anchor="middle" transform="rotate(-90 466.30 164.50)" textLength="130.00" lengthAdjust="spacing">cutpoint</text>
<text x="446.20" y="399.60" font-size="35.5" text-anchor="middle" transform="rotate(-90 446.20 399.60)" textLength="196.80" lengthAdjust="spacing">Time (days)</text>
<text x="827.00" y="168.90" font-size="35.5" text-anchor="middle" transform="rotate(-90 827.00 168.90)" textLength="126.60" lengthAdjust="spacing">Optimal</text>
<text x="866.30" y="164.50" font-size="35.5" text-anchor="middle" transform="rotate(-90 866.30 164.50)" textLength="130.00" lengthAdjust="spacing">cutpoint</text>
<text x="846.20" y="399.60" font-size="35.5" text-anchor="middle" transform="rotate(-90 846.20 399.60)" textLength="196.80" lengthAdjust="spacing">Time (days)</text>
<text x="34.10" y="853.45" font-size="35.5" text-anchor="middle" transform="rotate(-90 34.10 853.45)" textLength="126.60" lengthAdjust="spacing">Optimal</text>
<text x="74.80" y="845.20" font-size="35.5" text-anchor="middle" transform="rotate(-90 74.80 845.20)" textLength="130.00" lengthAdjust="spacing">cutpoint</text>
<text x="54.90" y="1080.00" font-size="35.5" text-anchor="middle" transform="rotate(-90 54.90 1080.00)" textLength="196.80" lengthAdjust="spacing">Time (days)</text>
<text x="475.00" y="844.90" font-size="35.5" text-anchor="middle" transform="rotate(-90 475.00 844.90)" textLength="130.00" lengthAdjust="spacing">cutpoint</text>
<text x="454.90" y="1080.00" font-size="35.5" text-anchor="middle" transform="rotate(-90 454.90 1080.00)" textLength="196.80" lengthAdjust="spacing">Time (days)</text>
<text x="834.10" y="853.45" font-size="35.5" text-anchor="middle" transform="rotate(-90 834.10 853.45)" textLength="126.60" lengthAdjust="spacing">Optimal</text>
<text x="874.80" y="845.20" font-size="35.5" text-anchor="middle" transform="rotate(-90 874.80 845.20)" textLength="130.00" lengthAdjust="spacing">cutpoint</text>
<text x="854.90" y="1080.00" font-size="35.5" text-anchor="middle" transform="rotate(-90 854.90 1080.00)" textLength="196.80" lengthAdjust="spacing">Time (days)</text>
<text x="655.50" y="636.30" font-size="37" text-anchor="middle">Assay error</text>
<text x="663.10" y="1316.90" font-size="37" text-anchor="middle">Assay error</text>
<text x="1253.60" y="334.50" font-size="32.5" text-anchor="start">1.0</text>
<text x="1253.60" y="387.70" font-size="32.5" text-anchor="start">0.9</text>
<text x="1253.60" y="440.90" font-size="32.5" text-anchor="start">0.8</text>
<text x="1253.60" y="494.10" font-size="32.5" text-anchor="start">0.7</text>
<text x="1253.60" y="547.30" font-size="32.5" text-anchor="start">&lt;0.6</text>
<text x="1342.90" y="427.00" font-size="33.6" text-anchor="middle" transform="rotate(-90 1342.90 427.00)">Sensitivity</text>
<text x="1261.20" y="1015.10" font-size="32.5" text-anchor="start">1.0</text>
<text x="1261.20" y="1068.30" font-size="32.5" text-anchor="start">0.9</text>
<text x="1261.20" y="1121.50" font-size="32.5" text-anchor="start">0.8</text>
<text x="1261.20" y="1174.70" font-size="32.5" text-anchor="start">0.7</text>
<text x="1261.20" y="1227.90" font-size="32.5" text-anchor="start">&lt;0.6</text>
<text x="1350.50" y="1107.60" font-size="33.6" text-anchor="middle" transform="rotate(-90 1350.50 1107.60)">Sensitivity</text>
</svg>
</body></html>
